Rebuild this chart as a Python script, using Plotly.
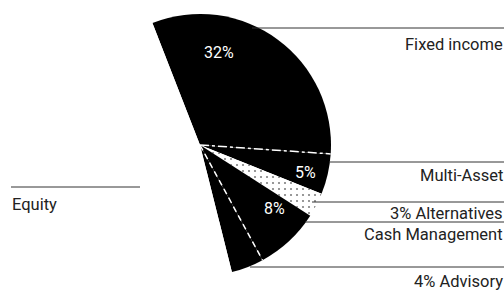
import plotly.graph_objects as go
import math

# Data
categories = ["Fixed income", "Multi-Asset", "Alternatives", "Cash Management", "Advisory", "Equity"]
values = [32, 5, 3, 8, 4, 48]
pct_labels = ["32%", "5%", "", "8%", "", ""]
side_labels = ["Fixed income", "Multi-Asset", "3% Alternatives", "Cash Management", "4% Advisory", "Equity"]

W, H = 504, 291
cx, cy, R = 200, 145, 131
start_angle = -21.3

fills = ["black", "black", "white", "black", "black", "white"]
patterns = ["", "", ".", "", "", ""]

fig = go.Figure(go.Pie(
    labels=categories, values=values, sort=False, direction="clockwise",
    rotation=start_angle,
    marker=dict(colors=fills, line=dict(color="white", width=0),
                pattern=dict(shape=patterns, fgcolor="black", bgcolor="white",
                             size=6, solidity=0.1, fillmode="overlay")),
    textinfo="none", hoverinfo="skip", showlegend=False,
    domain=dict(x=[(cx - R) / W, (cx + R) / W], y=[1 - (cy + R) / H, 1 - (cy - R) / H]),
))

font = dict(family="Roboto", size=16.5, color="#222")
shapes = []
annotations = []

# leader lines: (line y, x start, x end, text centre y, alignment)
leaders = [
    (28, 252, 504, 44, "right"),
    (162, 329, 504, 175, "right"),
    (202, 312, 504, 213, "right"),
    (222, 305, 504, 234, "right"),
    (267, 250, 504, 281.5, "right"),
    (187, 11, 140, 204.5, "left"),
]
for lab, (ly, x0, x1, ty, al) in zip(side_labels, leaders):
    shapes.append(dict(type="line", xref="paper", yref="paper",
                       x0=x0 / W, x1=x1 / W, y0=1 - ly / H, y1=1 - ly / H,
                       line=dict(color="#333", width=1)))
    annotations.append(dict(text=lab, xref="paper", yref="paper",
                            x=(x1 + 1) / W if al == "right" else 10 / W,
                            y=1 - ty / H, xanchor=al, yanchor="middle",
                            showarrow=False, font=font))

# dashed separators computed from the data
cum = 0
total = sum(values)
angles = []
for v in values:
    angles.append(start_angle + 360 * cum / total)
    cum += v
for idx, dash in [(1, "dashdot"), (4, "6px,4px")]:
    a = math.radians(angles[idx])
    shapes.append(dict(type="line", xref="paper", yref="paper",
                       x0=cx / W, y0=1 - cy / H,
                       x1=(cx + R * math.sin(a)) / W, y1=1 - (cy - R * math.cos(a)) / H,
                       line=dict(color="white", width=1.5, dash=dash)))

# percentage labels inside slices
pos = {"32%": (219, 52), "5%": (305, 172), "8%": (274, 208)}
for t in pct_labels:
    if t:
        x, y = pos[t]
        annotations.append(dict(text=t, xref="paper", yref="paper", x=x / W, y=1 - y / H,
                                xanchor="center", yanchor="middle",
                                showarrow=False, font=dict(family="Roboto", size=16, color="white")))

fig.update_layout(width=W, height=H, margin=dict(l=0, r=0, t=0, b=0),
                  paper_bgcolor="white", plot_bgcolor="white",
                  shapes=shapes, annotations=annotations)
fig.write_html("out.html", config={"displayModeBar": False},
               post_script="document.body.style.margin='0';document.body.style.overflow='hidden';")
